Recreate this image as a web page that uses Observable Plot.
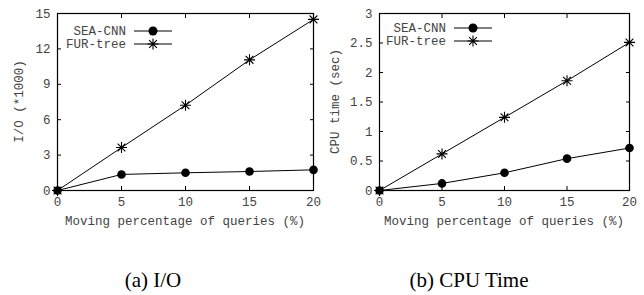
<!DOCTYPE html>
<html><head><meta charset="utf-8">
<script src="https://cdn.jsdelivr.net/npm/d3@7"></script>
<script src="https://cdn.jsdelivr.net/npm/@observablehq/plot@0.6"></script>
<style>
body{margin:0;background:#fff;width:644px;height:295px;position:relative;overflow:hidden}
.panel{position:absolute;top:0}
.cap{position:absolute;font-family:"Liberation Serif","Times New Roman",serif;font-size:21px;line-height:21px;color:#000;transform:translateX(-50%);white-space:nowrap}
svg text{font-family:"Liberation Mono","Courier New",monospace}
</style></head>
<body>
<div id="a" class="panel" style="left:0"></div>
<div id="b" class="panel" style="left:322px"></div>
<div class="cap" style="left:153px;top:270px">(a) I/O</div>
<div class="cap" style="left:469px;top:270px">(b) CPU Time</div>
<script>
const xValues = [0, 5, 10, 15, 20];
const xTicks = [0, 5, 10, 15, 20];
const seriesNames = ["SEA-CNN", "FUR-tree"];
const ioSEA = [0, 1.36, 1.5, 1.61, 1.75];
const ioFUR = [0, 3.64, 7.23, 11.07, 14.5];
const cpuSEA = [0, 0.12, 0.30, 0.54, 0.72];
const cpuFUR = [0, 0.62, 1.24, 1.86, 2.51];
const ioTicks = [0, 3, 6, 9, 12, 15];
const cpuTicks = [0, 0.5, 1, 1.5, 2, 2.5, 3];
const xLabel = "Moving percentage of queries (%)";

const star = {
  draw(ctx, size) {
    const r = Math.sqrt(size / Math.PI);
    const d = r * Math.SQRT1_2;
    ctx.moveTo(-r, 0); ctx.lineTo(r, 0);
    ctx.moveTo(0, -r); ctx.lineTo(0, r);
    ctx.moveTo(-d, -d); ctx.lineTo(d, d);
    ctx.moveTo(-d, d); ctx.lineTo(d, -d);
  }
};

function rows(a, b) {
  return xValues.flatMap((x, i) => [
    {x, y: a[i], s: seriesNames[0]},
    {x, y: b[i], s: seriesNames[1]}
  ]);
}

function panel(el, a, b, yTicks, yMax, yLabel, mr, tickFmt, legendX, legendY, yLabelX) {
  const data = rows(a, b);
  const sea = data.filter(d => d.s === seriesNames[0]);
  const fur = data.filter(d => d.s === seriesNames[1]);
  const W = 322, H = 230, ml = 57, mt = 13, mb = 40;
  const p = Plot.plot({
    width: W, height: H,
    marginLeft: ml, marginRight: mr, marginTop: mt, marginBottom: mb,
    style: {background: "#fff", overflow: "visible"},
    x: {domain: [0, 20], ticks: xTicks},
    y: {domain: [0, yMax], ticks: yTicks},
    marks: [
      Plot.axisX({ticks: xTicks, tickSize: 0, tickPadding: 7, fontSize: 12.5, color: "#444", label: null}),
      Plot.axisX({ticks: xTicks, tickSize: -4, text: null, label: null, stroke: "#000"}),
      Plot.axisX({anchor: "top", ticks: xTicks, tickSize: -4, text: null, label: null, stroke: "#000"}),
      Plot.axisY({ticks: yTicks, tickSize: 0, tickPadding: 7, fontSize: 12.5, color: "#444", label: null, tickFormat: tickFmt}),
      Plot.axisY({ticks: yTicks, tickSize: -4, text: null, label: null, stroke: "#000"}),
      Plot.axisY({anchor: "right", ticks: yTicks, tickSize: -4, text: null, label: null, stroke: "#000"}),
      Plot.frame({stroke: "#000", strokeWidth: 1.2}),
      Plot.line(sea, {x: "x", y: "y", stroke: "#000", strokeWidth: 1}),
      Plot.line(fur, {x: "x", y: "y", stroke: "#000", strokeWidth: 1}),
      Plot.dot(sea, {x: "x", y: "y", r: 4.3, fill: "#000", stroke: "none"}),
      Plot.dot(fur, {x: "x", y: "y", r: 5.5, symbol: star, stroke: "#000", strokeWidth: 1.1, fill: "none"})
    ]
  });
  el.appendChild(p);
  const svg = d3.select(p);
  svg.append("text").attr("x", ml + (W - ml - mr) / 2).attr("y", 225)
    .attr("text-anchor", "middle").attr("font-size", 12.5).attr("fill", "#444")
    .text(xLabel);
  svg.append("text").attr("transform", `translate(${yLabelX},${mt + (H - mt - mb) / 2}) rotate(-90)`)
    .attr("text-anchor", "middle").attr("dominant-baseline", "middle")
    .attr("font-size", 12.5).attr("fill", "#444").text(yLabel);
  const lg = svg.append("g");
  seriesNames.forEach((name, i) => {
    const y = legendY + i * 13;
    lg.append("text").attr("x", legendX).attr("y", y).attr("dy", "0.35em")
      .attr("text-anchor", "end").attr("font-size", 12.5).attr("fill", "#444").text(name);
    lg.append("line").attr("x1", legendX + 8).attr("x2", legendX + 46)
      .attr("y1", y).attr("y2", y).attr("stroke", "#000").attr("stroke-width", 1);
    const cx = legendX + 27;
    if (i === 0) {
      lg.append("circle").attr("cx", cx).attr("cy", y).attr("r", 4.5).attr("fill", "#000");
    } else {
      lg.append("path").attr("transform", `translate(${cx},${y})`)
        .attr("d", d3.symbol(star, 5.5 * 5.5 * Math.PI)()).attr("stroke", "#000")
        .attr("stroke-width", 1.1).attr("fill", "none");
    }
  });
}

panel(document.getElementById("a"), ioSEA, ioFUR, ioTicks, 15, "I/O (*1000)", 9, d3.format("d"), 126, 31, 20);
panel(document.getElementById("b"), cpuSEA, cpuFUR, cpuTicks, 3, "CPU time (sec)", 15, d => String(d), 124, 28, 14);
</script>
</body></html>
